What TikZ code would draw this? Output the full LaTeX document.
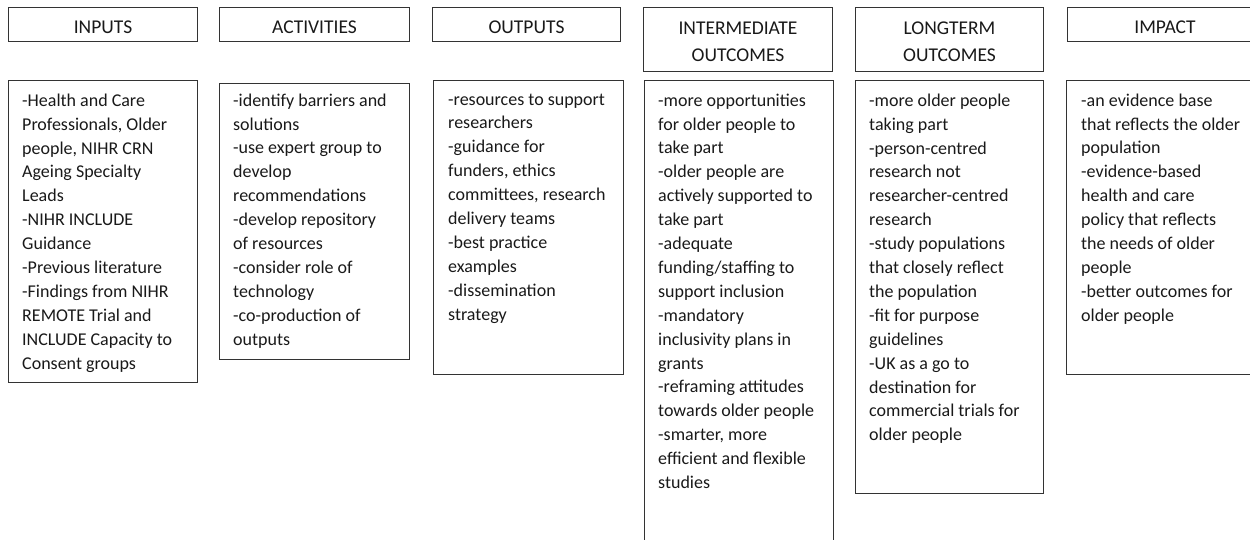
\documentclass[tikz,border=0pt]{standalone}
\usepackage{fontspec}
\setmainfont{Carlito}
\begin{document}
\begin{tikzpicture}[x=1pt,y=-1pt,
  frame/.style={draw=black!80, line width=1pt, rectangle, inner sep=0pt, anchor=north west},
  headtext/.style={font=\fontsize{19.5}{27}\selectfont, align=center, text=black!90, inner sep=0pt},
  bodytext/.style={font=\fontsize{18}{23.9}\selectfont, align=left, anchor=north west, inner sep=0pt, text=black!90}]
\useasboundingbox (0,0) rectangle (1250,540);
\clip (0,0) rectangle (1250,540);
% header boxes
\node[frame, minimum width=189pt, minimum height=34pt] (h1) at (8,7) {};
\node[frame, minimum width=190pt, minimum height=34pt] (h2) at (219,7) {};
\node[frame, minimum width=188pt, minimum height=34pt] (h3) at (432,7) {};
\node[frame, minimum width=189pt, minimum height=64pt] (h4) at (643,7) {};
\node[frame, minimum width=188pt, minimum height=64pt] (h5) at (855,7) {};
\node[frame, minimum width=195pt, minimum height=34pt] (h6) at (1067,7) {};
\node[headtext] (t1) at ([yshift=-3pt]h1.center) {INPUTS};
\node[headtext] (t2) at ([yshift=-3pt]h2.center) {ACTIVITIES};
\node[headtext] (t3) at ([yshift=-3pt]h3.center) {OUTPUTS};
\node[headtext] (t4) at ([yshift=-2.5pt]h4.center) {INTERMEDIATE\\OUTCOMES};
\node[headtext] (t5) at ([yshift=-2.5pt]h5.center) {LONGTERM\\OUTCOMES};
\node[headtext] (t6) at ([yshift=-3pt]h6.center) {IMPACT};
% body boxes
\node[frame, minimum width=189pt, minimum height=302pt] (b1) at (8,80) {};
\node[frame, minimum width=190pt, minimum height=276pt] (b2) at (219,83) {};
\node[frame, minimum width=190pt, minimum height=294pt] (b3) at (433,80) {};
\node[frame, minimum width=189pt, minimum height=470pt] (b4) at (644,80) {};
\node[frame, minimum width=188pt, minimum height=413pt] (b5) at (855,80) {};
\node[frame, minimum width=195pt, minimum height=294pt] (b6) at (1066,80) {};
% body texts
\node[bodytext] (x1) at (22,93.5) {-Health and Care\\Professionals, Older\\people, NIHR CRN\\Ageing Specialty\\Leads\\-NIHR INCLUDE\\Guidance\\-Previous literature\\-Findings from NIHR\\REMOTE Trial and\\INCLUDE Capacity to\\Consent groups};
\node[bodytext] (x2) at (233,93.5) {-identify barriers and\\solutions\\-use expert group to\\develop\\recommendations\\-develop repository\\of resources\\-consider role of\\technology\\-co-production of\\outputs};
\node[bodytext] (x3) at (448,93.5) {-resources to support\\researchers\\-guidance for\\funders, ethics\\committees, research\\delivery teams\\-best practice\\examples\\-dissemination\\strategy};
\node[bodytext] (x4) at (658,93.5) {-more opportunities\\for older people to\\take part\\-older people are\\actively supported to\\take part\\-adequate\\funding/staffing to\\support inclusion\\-mandatory\\inclusivity plans in\\grants\\-reframing attitudes\\towards older people\\-smarter, more\\efficient and flexible\\studies};
\node[bodytext] (x5) at (869,93.5) {-more older people\\taking part\\-person-centred\\research not\\researcher-centred\\research\\-study populations\\that closely reflect\\the population\\-fit for purpose\\guidelines\\-UK as a go to\\destination for\\commercial trials for\\older people};
\node[bodytext] (x6) at (1081,93.5) {-an evidence base\\that reflects the older\\population\\-evidence-based\\health and care\\policy that reflects\\the needs of older\\people\\-better outcomes for\\older people};
\end{tikzpicture}
\end{document}
